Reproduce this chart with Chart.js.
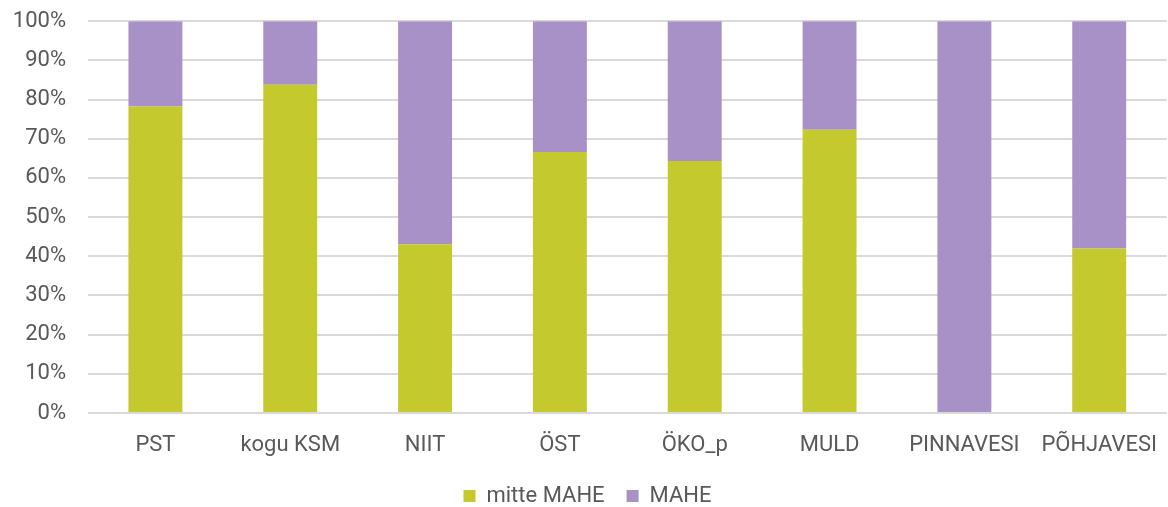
<!DOCTYPE html>
<html>
<head>
<meta charset="utf-8">
<script src="https://cdn.jsdelivr.net/npm/chart.js@4/dist/chart.umd.min.js"></script>
<style>
  html, body { margin: 0; padding: 0; background: #fff; overflow: hidden; }
  #wrap { width: 1168px; height: 531px; margin-top: -14px; }
</style>
</head>
<body>
<div id="wrap"><canvas id="mahe"></canvas></div>
<script>
const kategooriad = ['PST', 'kogu KSM', 'NIIT', 'ÖST', 'ÖKO_p', 'MULD', 'PINNAVESI', 'PÕHJAVESI'];
const mitteMahe = [78.2, 83.8, 43.1, 66.6, 64.3, 72.3, 0, 42.0];
const mahe = [21.8, 16.2, 56.9, 33.4, 35.7, 27.7, 100, 58.0];
const yTicks = [0, 10, 20, 30, 40, 50, 60, 70, 80, 90, 100];

const tekst = '#595959';
const font = { family: 'Roboto', size: 22 };

document.addEventListener('DOMContentLoaded', function () {
    const ctx = document.getElementById('mahe').getContext('2d');

    new Chart(ctx, {
        type: 'bar',
        data: {
            labels: kategooriad,
            datasets: [
                {
                    label: 'mitte MAHE',
                    data: mitteMahe,
                    backgroundColor: '#c4c92e',
                    categoryPercentage: 0.8,
                    barPercentage: 0.5
                },
                {
                    label: 'MAHE',
                    data: mahe,
                    backgroundColor: '#a891c6',
                    categoryPercentage: 0.8,
                    barPercentage: 0.5
                }
            ]
        },
        options: {
            responsive: true,
            maintainAspectRatio: false,
            animation: false,
            layout: { padding: { top: 0, right: -7, left: 0, bottom: 0 } },
            plugins: {
                tooltip: { enabled: false },
                legend: {
                    position: 'bottom',
                    labels: {
                        color: tekst,
                        font: font,
                        boxWidth: 12,
                        boxHeight: 12,
                        padding: 22
                    }
                }
            },
            scales: {
                x: {
                    stacked: true,
                    afterFit: function (scale) { scale.height = 50; },
                    grid: { display: false },
                    border: { display: false },
                    ticks: { color: tekst, font: font, padding: 11, maxRotation: 0, autoSkip: false }
                },
                y: {
                    stacked: true,
                    min: 0,
                    max: 100,
                    afterFit: function (scale) { scale.width = 88; },
                    afterBuildTicks: function (scale) {
                        scale.ticks = yTicks.map(v => ({ value: v }));
                    },
                    grid: { color: '#d9d9d9', lineWidth: 2, drawTicks: false },
                    border: { display: false },
                    ticks: {
                        color: tekst,
                        font: font,
                        padding: 22,
                        callback: v => v + '%'
                    }
                }
            }
        }
    });
});
</script>
</body>
</html>
